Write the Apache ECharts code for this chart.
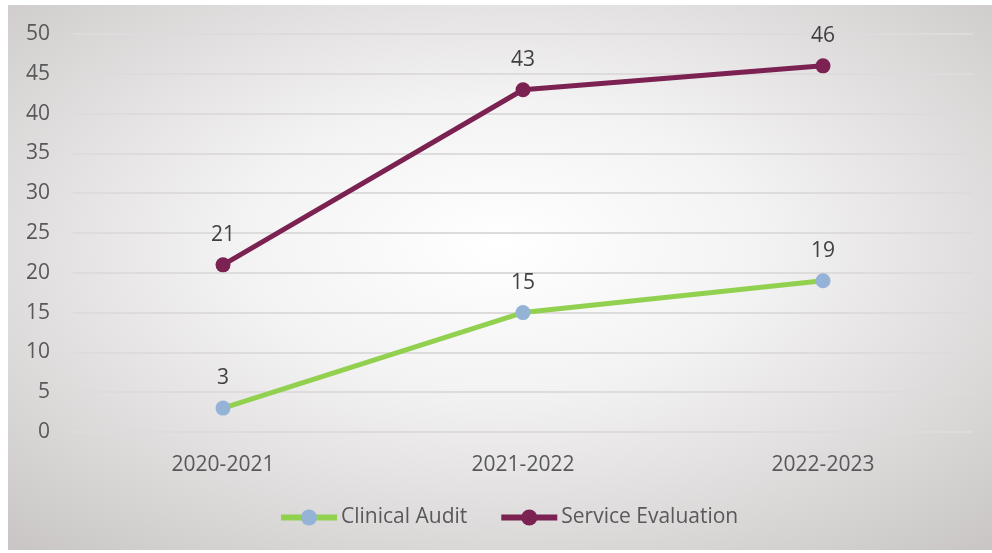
<!DOCTYPE html>
<html><head><meta charset="utf-8">
<script src="https://cdn.jsdelivr.net/npm/echarts@6/dist/echarts.min.js"></script>
<style>html,body{margin:0;padding:0;background:#fff}#c{width:992px;height:553px}</style>
</head><body><div id="c"></div>
<script>
var categories = ['2020-2021', '2021-2022', '2022-2023'];
var clinicalAudit = [3, 15, 19];
var serviceEvaluation = [21, 43, 46];
var yTicks = {min: 0, max: 50, interval: 5};

var chart = echarts.init(document.getElementById('c'), null, {renderer: 'canvas'});
var font = '"Open Sans", "Noto Sans", sans-serif';
chart.setOption({
  animation: false,
  graphic: [{
    type: 'rect', z: -10, left: 8, top: 5,
    shape: {x: 0, y: 0, width: 545, height: 545},
    scaleX: 984 / 545, scaleY: 1,
    style: {fill: {type: 'radial', x: 0.5, y: 0.44, r: 0.75,
      colorStops: [{offset: 0, color: '#ffffff'}, {offset: 0.35, color: '#f4f3f3'}, {offset: 1, color: '#c9c5c5'}]}},
    silent: true
  }],
  grid: {left: 73, right: 19, top: 34, bottom: 121},
  xAxis: {
    type: 'category', data: categories, boundaryGap: true,
    axisLine: {show: false}, axisTick: {show: false},
    axisLabel: {color: '#595959', fontSize: 21, fontFamily: font, margin: 23}
  },
  yAxis: {
    type: 'value', min: yTicks.min, max: yTicks.max, interval: yTicks.interval,
    axisLine: {show: false}, axisTick: {show: false},
    axisLabel: {color: '#595959', fontSize: 21, fontFamily: font, margin: 23},
    splitLine: {lineStyle: {color: '#dddbdb', width: 2}}
  },
  legend: {
    bottom: 20, left: 273, itemWidth: 56, itemHeight: 20, itemGap: 31,
    textStyle: {color: '#595959', fontSize: 21, fontFamily: font, padding: [0,0,0,-1]},
    data: [
      {name: 'Clinical Audit', lineStyle: {width: 6, color: '#92d050'}, itemStyle: {color: '#95b3d7'}},
      {name: 'Service Evaluation', lineStyle: {width: 6, color: '#7b2252'}, itemStyle: {color: '#7b2252'}}
    ]
  },
  series: [{
    name: 'Clinical Audit', type: 'line', data: clinicalAudit,
    lineStyle: {color: '#92d050', width: 5},
    itemStyle: {color: '#95b3d7'},
    symbol: 'circle', symbolSize: 15,
    label: {show: true, position: 'top', distance: 12, color: '#404040', fontSize: 21, fontFamily: font}
  }, {
    name: 'Service Evaluation', type: 'line', data: serviceEvaluation,
    lineStyle: {color: '#7b2252', width: 5},
    itemStyle: {color: '#7b2252'},
    symbol: 'circle', symbolSize: 15,
    label: {show: true, position: 'top', distance: 12, color: '#404040', fontSize: 21, fontFamily: font}
  }]
});
</script></body></html>
